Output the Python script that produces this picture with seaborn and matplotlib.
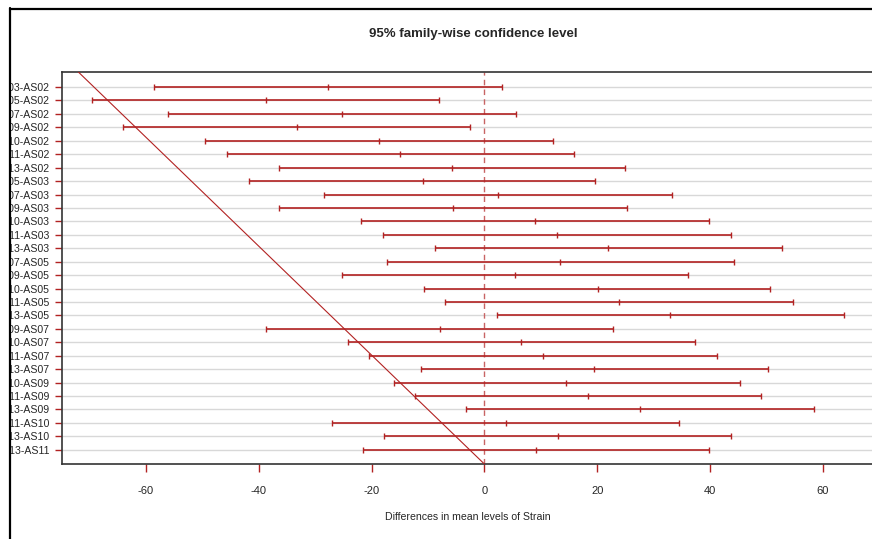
import numpy as np
import pandas as pd
import matplotlib
matplotlib.use('Agg')
import matplotlib.pyplot as plt
from matplotlib import font_manager
from matplotlib.patches import Rectangle
from matplotlib.lines import Line2D
import seaborn as sns

sns.set_style('white')
installed = {f.name for f in font_manager.fontManager.ttflist}
narrow = 'Liberation Sans Narrow' in installed or 'DejaVu Sans Condensed' in installed
plt.rcParams['font.family'] = ['Liberation Sans Narrow', 'DejaVu Sans Condensed',
                               'Liberation Sans', 'DejaVu Sans']

# Tukey HSD comparisons, top to bottom
comparisons = ['AS03-AS02', 'AS05-AS02', 'AS07-AS02', 'AS09-AS02', 'AS10-AS02',
               'AS11-AS02', 'AS13-AS02', 'AS05-AS03', 'AS07-AS03', 'AS09-AS03',
               'AS10-AS03', 'AS11-AS03', 'AS13-AS03', 'AS07-AS05', 'AS09-AS05',
               'AS10-AS05', 'AS11-AS05', 'AS13-AS05', 'AS09-AS07', 'AS10-AS07',
               'AS11-AS07', 'AS13-AS07', 'AS10-AS09', 'AS11-AS09', 'AS13-AS09',
               'AS11-AS10', 'AS13-AS10', 'AS13-AS11']
diff = [-27.7, -38.7, -25.3, -33.2, -18.7, -14.9, -5.8, -10.9, 2.4, -5.6,
        9.0, 12.8, 22.0, 13.5, 5.5, 20.1, 23.9, 33.0, -7.9, 6.5,
        10.4, 19.5, 14.5, 18.3, 27.6, 3.8, 13.0, 9.2]
lwr = [-58.5, -69.6, -56.1, -64.0, -49.5, -45.6, -36.5, -41.7, -28.4, -36.4,
       -21.8, -18.0, -8.8, -17.3, -25.3, -10.7, -7.0, 2.2, -38.7, -24.2,
       -20.4, -11.2, -16.1, -12.3, -3.2, -27.0, -17.8, -21.6]
upr = [3.1, -8.0, 5.6, -2.5, 12.1, 15.9, 25.0, 19.7, 33.2, 25.3,
       39.8, 43.7, 52.7, 44.2, 36.2, 50.7, 54.7, 63.8, 22.8, 37.4,
       41.2, 50.3, 45.3, 49.1, 58.4, 34.6, 43.7, 39.9]
xticks = [-60, -40, -20, 0, 20, 40, 60]

df = pd.DataFrame({'comp': comparisons, 'diff': diff, 'lwr': lwr, 'upr': upr})
df['row'] = np.arange(len(df))

# sizes for a narrow face, or smaller ones for a normal width face
if narrow:
    ysize, xsize, lsize, tsize = 8.5, 8.5, 8.5, 10
else:
    ysize, xsize, lsize, tsize = 7.6, 8, 7.6, 9.5

red = '#b22222'
W, H = 872, 539
fig = plt.figure(figsize=(W / 100, H / 100), dpi=100)
ax = fig.add_axes([62 / W, 1 - 464 / H, (874 - 62) / W, (464 - 72) / H])

n = len(df)
ax.set_xlim(-74.9, 69.1)
ax.set_ylim(n - 1 + 1.06, -1.12)

# grid lines per comparison
for r in df['row']:
    ax.axhline(r, color='#d8d8d8', lw=1.0, zorder=1)

ax.axvline(0, color='#c86464', lw=1.0, ls=(0, (4, 3)), zorder=2)

# diagonal reference line from the original
ax.plot([-72.0, 0.0], [-1.12, n - 1 + 1.06], color=red, lw=0.8, zorder=3)

ax.hlines(df['row'], df['lwr'], df['upr'], color=red, lw=1.2, zorder=4)
for col in ['lwr', 'diff', 'upr']:
    sns.scatterplot(data=df, x=col, y='row', marker='|', s=16, color=red,
                    linewidth=1.0, ax=ax, zorder=5, legend=False)

ax.set_yticks(df['row'])
ax.set_yticklabels(df['comp'])
ax.set_xticks(xticks)
ax.set_xticklabels([str(v) for v in xticks])
ax.tick_params(axis='y', direction='out', length=5, width=1, color=red, pad=3.5,
               labelsize=ysize, left=True)
ax.tick_params(axis='x', direction='out', length=6, width=1, color=red, pad=10,
               labelsize=xsize, bottom=True)
ax.set_xlabel('Differences in mean levels of Strain', fontsize=lsize, labelpad=11)
ax.set_ylabel('')

for side in ['top', 'bottom', 'left']:
    ax.spines[side].set_color('#333333')
    ax.spines[side].set_linewidth(1.2)
ax.spines['right'].set_visible(False)

fig.text(473 / W, 1 - 34 / H, '95% family-wise confidence level',
         ha='center', va='center', fontsize=tsize, fontweight='bold')

# outer frame of the screenshot, hiding the clipped label starts
fig.add_artist(Rectangle((0, 0), 9 / W, 1, transform=fig.transFigure,
                         facecolor='white', edgecolor='none', zorder=20))
fig.add_artist(Line2D([10 / W, 10 / W], [0, 1 - 8 / H], transform=fig.transFigure,
                      color='black', lw=1.6, zorder=21))
fig.add_artist(Line2D([10 / W, 1], [1 - 9 / H, 1 - 9 / H], transform=fig.transFigure,
                      color='black', lw=1.6, zorder=21))

fig.savefig('out.png', dpi=100)
